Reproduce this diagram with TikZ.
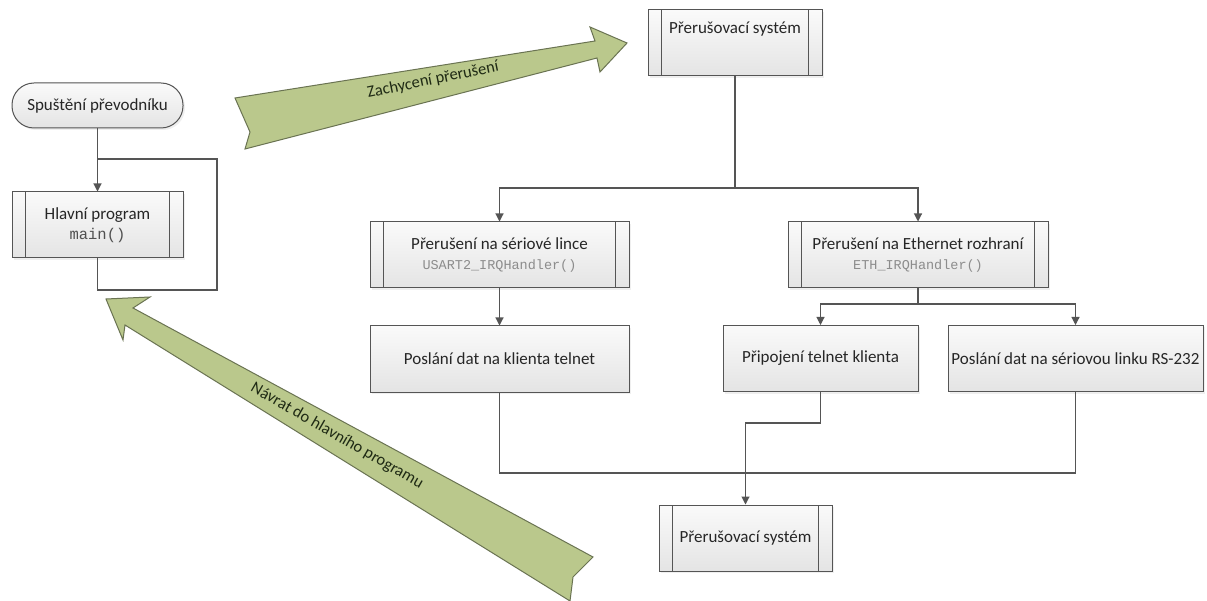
\documentclass[tikz,border=0pt]{standalone}
\usepackage{fontspec}
\setmainfont{Carlito}
\newfontfamily\codefont{Liberation Mono}
\usetikzlibrary{arrows.meta,shadows}
\definecolor{lineC}{HTML}{555555}
\definecolor{txtC}{HTML}{262626}
\definecolor{codeC}{HTML}{8C8C8C}
\definecolor{mainC}{HTML}{505050}
\definecolor{boxTop}{HTML}{FAFAFA}
\definecolor{boxBot}{HTML}{E4E4E4}
\definecolor{grnFill}{HTML}{BAC88C}
\definecolor{grnLine}{HTML}{6A7352}
\definecolor{grnTxt}{HTML}{1F2A14}
\tikzset{
  boxbase/.style={draw=lineC, line width=1pt, top color=boxTop, bottom color=boxBot,
    text=txtC, font=\fontsize{17}{21}\selectfont, align=center, inner sep=2pt,
    drop shadow={opacity=0.12, shadow xshift=2pt, shadow yshift=-2pt}},
  procbox/.style={boxbase, rectangle},
  subproc/.style={boxbase, rectangle,
    path picture={
      \draw[lineC, line width=1pt]
        ([xshift=13.5pt]path picture bounding box.north west) -- ([xshift=13.5pt]path picture bounding box.south west)
        ([xshift=-13.5pt]path picture bounding box.north east) -- ([xshift=-13.5pt]path picture bounding box.south east);
    }},
  termbox/.style={boxbase, rectangle, rounded corners=22pt},
  conn/.style={draw=lineC, line width=1.1pt},
  arr/.style={conn, -{Triangle[length=8pt,width=8pt]}},
  bigarrow/.style={draw=grnLine, line width=1pt, fill=grnFill, line join=miter},
  arrtxt/.style={text=grnTxt, font=\fontsize{16.5}{19}\selectfont, inner sep=0pt}
}
\newcommand{\cd}[1]{{\codefont\fontsize{13.5}{16}\selectfont\color{codeC}#1}}
\begin{document}
\begin{tikzpicture}[x=1pt,y=-1pt]
\useasboundingbox (0,0) rectangle (1207,601);
\fill[white] (0,0) rectangle (1207,601);

% green arrows
\path[bigarrow] (235,98) -- (595,41) -- (590,27) -- (627,43) -- (600,72) -- (597,58) -- (245,149) -- (250,132) -- cycle;
\node[arrtxt, rotate=11.5] (zach) at (433,80) {Zachycení přerušení};

\path[bigarrow] (106,299) -- (150,297) -- (133,308) -- (593,557) -- (573,577) -- (570,601) -- (125,325) -- (123,340) -- cycle;
\node[arrtxt, rotate=-30] (navr) at (337,436) {Návrat do hlavního programu};

% boxes
\node[termbox, minimum width=171pt, minimum height=45pt] (start) at (97.5,105.5) {Spuštění převodníku};
\node[subproc, minimum width=171pt, minimum height=66pt] (main) at (97.5,225)
  {Hlavní program\\[-1pt]{\codefont\fontsize{15.5}{17}\selectfont\color{mainC}main()}};
\node[subproc, minimum width=174pt, minimum height=66pt,
  label={[anchor=north, yshift=-9pt, text=txtC, font=\fontsize{17}{21}\selectfont]north:Přerušovací systém}] (top) at (735,43) {};
\node[subproc, minimum width=259pt, minimum height=66pt] (ser) at (499.5,255)
  {Přerušení na sériové lince\\[-1pt]\cd{USART2\_IRQHandler()}};
\node[subproc, minimum width=260pt, minimum height=66pt] (eth) at (918,255)
  {Přerušení na Ethernet rozhraní\\[-1pt]\cd{ETH\_IRQHandler()}};
\node[procbox, minimum width=259pt, minimum height=66pt] (tel) at (499.5,359) {Poslání dat na klienta telnet};
\node[procbox, minimum width=195pt, minimum height=66pt] (con) at (820.5,358.5) {Připojení telnet klienta};
\node[procbox, minimum width=255pt, minimum height=66pt] (rs) at (1075.5,358.5) {Poslání dat na sériovou linku RS-232};
\node[subproc, minimum width=173pt, minimum height=66pt] (bot) at (745.5,538) {Přerušovací systém};

% connectors
\coordinate (loopA) at (97.5,290);
\coordinate (loopB) at (217,159);
\coordinate (loopE) at (97.5,159);
\draw[arr] (start) -- (main);
\draw[conn] (main.south) -- (loopA) -| (loopB) -- (loopE);

\coordinate (f1) at (735,188);
\draw[arr] (top.south) -- (f1) -| (ser.north);
\draw[arr] (f1) -| (eth.north);
\draw[arr] (ser) -- (tel);

\coordinate (f2) at (918,304);
\draw[arr] (eth.south) -- (f2) -| (con.north);
\draw[arr] (f2) -| (rs.north);

\coordinate (j1) at (499.5,473);
\draw[conn] (tel.south) -- (j1) -| (rs.south);
\coordinate (j2) at (820.5,423);
\draw[arr] (con.south) -- (j2) -| (bot.north);
\end{tikzpicture}
\end{document}
